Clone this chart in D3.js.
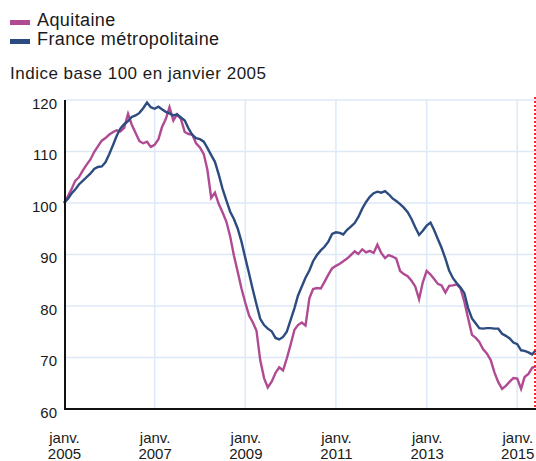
<!DOCTYPE html>
<html>
<head>
<meta charset="utf-8">
<script src="https://cdn.jsdelivr.net/npm/d3@7"></script>
<style>
    body { margin: 0; background: #fff; }
    text { font-family: "Liberation Sans", Arial, sans-serif; fill: #1a1a1a; }
</style>
</head>
<body>
<script>
// séries mensuelles, janvier 2005 -> juin 2015
const seriesNames = ['Aquitaine', 'France métropolitaine']
const seriesColors = ['#b04b93', '#2c4c80']

const aquitaine = [
    100.0, 101.3, 102.6, 104.3, 105.0, 106.3, 107.4, 108.4, 109.9, 111.0, 112.1, 112.6,
    113.3, 113.8, 114.1, 113.9, 114.6, 117.3, 115.2, 113.6, 112.0, 111.6, 111.9, 110.9,
    111.3, 112.4, 114.7, 116.3, 118.6, 116.0, 117.2, 116.3, 113.8, 113.4, 113.3, 111.6,
    110.8, 109.5, 106.5, 101.0, 102.0, 99.8, 98.2, 96.4, 93.5, 89.8, 86.6, 83.4,
    80.6, 78.1, 76.9, 75.2, 69.5, 66.0, 64.2, 65.3, 67.0, 68.1, 67.5, 69.8,
    72.5, 75.4, 76.3, 76.8, 76.2, 81.5, 83.3, 83.5, 83.4, 84.7, 86.1, 87.3,
    87.8, 88.2, 88.7, 89.2, 89.9, 90.6, 90.1, 91.0, 90.4, 90.7, 90.3, 91.9,
    90.3, 89.3, 89.9, 89.6, 89.2, 86.8, 86.2, 85.8, 84.9, 83.8, 81.3, 84.6,
    86.8, 86.1, 85.3, 84.3, 84.0, 82.6, 83.9, 84.0, 84.2, 83.4, 80.8, 77.6,
    74.4, 73.8, 73.0, 71.6, 70.8, 69.5, 67.1, 65.2, 63.9, 64.5, 65.3, 66.0,
    65.9, 63.9, 66.2, 66.8, 68.0, 68.3
]

const france = [
    100.0, 100.8, 101.8, 102.6, 103.6, 104.3, 105.0, 105.7, 106.6, 107.0, 107.1, 107.9,
    109.5, 111.3, 113.0, 114.5, 115.3, 115.9, 116.7, 117.0, 117.5, 118.4, 119.5, 118.6,
    118.3, 118.7, 118.2, 117.7, 117.4, 117.0, 117.2, 116.6, 116.0, 114.5, 113.2, 112.6,
    112.4, 111.9, 110.7, 109.3, 108.0, 105.5, 102.8, 100.5, 98.3, 96.9, 95.0, 92.5,
    89.3, 86.2, 83.3, 80.3, 77.5, 76.3, 75.6, 75.1, 73.8, 73.5, 74.0, 75.0,
    77.3, 79.6, 82.0, 83.8, 85.5, 86.9, 88.7, 89.9, 90.8, 91.5, 92.5, 94.0,
    94.3, 94.2, 93.9, 94.8, 95.4, 96.1, 97.3, 98.9, 100.2, 101.2, 101.9, 102.2,
    102.0, 102.3, 101.7, 100.9, 100.4, 99.8, 99.1, 98.2, 96.9, 95.3, 93.8, 94.6,
    95.6, 96.2, 94.8, 93.0, 91.3, 89.2, 86.9, 85.4, 84.4, 83.6, 82.5, 79.6,
    77.6, 76.6, 75.7, 75.6, 75.7, 75.7, 75.6, 75.6, 74.6, 74.2, 73.7, 72.9,
    72.6, 71.4, 71.3, 71.0, 70.6, 71.5
]

const yTicks = [60, 70, 80, 90, 100, 110, 120]
const xTickYears = [2005, 2007, 2009, 2011, 2013, 2015]
const xTickMonth = 'janv.'
const subtitle = 'Indice base 100 en janvier 2005'
const markerDate = new Date(2015, 4, 25)

const App = {
    width: 536,
    height: 461,
    left: 65,
    right: 536,
    top: 100,
    bottom: 409
}

App.months = d3.timeMonth.range(new Date(2005, 0, 1), new Date(2005, aquitaine.length, 1))

App.svg = d3.select('body').append('svg')
    .attr('width', App.width)
    .attr('height', App.height)

App.x = d3.scaleTime()
    .domain([new Date(2005, 0, 1), new Date(2015, 5, 1)])
    .range([64, 536])

App.y = d3.scaleLinear()
    .domain([60, 120])
    .range([App.bottom, App.top])

// grille
App.svg.append('g')
    .selectAll('line')
    .data(yTicks.slice(1))
    .join('line')
    .attr('x1', App.left)
    .attr('x2', App.right)
    .attr('y1', d => App.y(d))
    .attr('y2', d => App.y(d))
    .attr('stroke', '#dde9f7')
    .attr('stroke-width', 1.5)

App.svg.append('g')
    .selectAll('line')
    .data(xTickYears.slice(1))
    .join('line')
    .attr('x1', d => App.x(new Date(d, 0, 1)))
    .attr('x2', d => App.x(new Date(d, 0, 1)))
    .attr('y1', App.top)
    .attr('y2', App.bottom)
    .attr('stroke', '#dde9f7')
    .attr('stroke-width', 1.5)

// axe y
const yAxis = App.svg.append('g')
    .attr('transform', 'translate(' + App.left + ',0)')
    .call(d3.axisLeft(App.y).tickValues(yTicks).tickSize(0).tickPadding(8))

yAxis.select('.domain').remove()
yAxis.selectAll('text')
    .attr('dy', '0.55em')
    .style('font-size', '15px')
    .attr('fill', '#1a1a1a')

// axe x
const xAxis = App.svg.append('g')
    .attr('transform', 'translate(0,' + App.bottom + ')')
    .call(d3.axisBottom(App.x)
        .tickValues(xTickYears.map(d => new Date(d, 0, 1)))
        .tickSize(0)
        .tickFormat(''))

xAxis.select('.domain').remove()

xAxis.selectAll('.tick').each(function (d) {
    const t = d3.select(this).append('text')
        .attr('text-anchor', 'middle')
        .style('font-size', '15px')
        .attr('fill', '#1a1a1a')
    t.append('tspan').attr('x', 0).attr('y', 34).text(xTickMonth)
    t.append('tspan').attr('x', 0).attr('y', 50).text(d.getFullYear())
})

// courbes
const line = d3.line()
    .x((d, i) => App.x(App.months[i]))
    .y(d => App.y(d))

;[aquitaine, france].forEach(function (values, i) {
    App.svg.append('path')
        .datum(values)
        .attr('fill', 'none')
        .attr('stroke', seriesColors[i])
        .attr('stroke-width', 2.4)
        .attr('stroke-linejoin', 'miter')
        .attr('d', line)
})

// cadre
App.svg.append('line')
    .attr('x1', App.left).attr('x2', App.left)
    .attr('y1', App.top).attr('y2', App.bottom)
    .attr('stroke', '#111').attr('stroke-width', 2)

App.svg.append('line')
    .attr('x1', App.left - 1).attr('x2', App.right)
    .attr('y1', App.bottom).attr('y2', App.bottom)
    .attr('stroke', '#111').attr('stroke-width', 2)

// repère rouge
App.svg.append('line')
    .attr('x1', App.x(markerDate)).attr('x2', App.x(markerDate))
    .attr('y1', App.top - 3).attr('y2', App.bottom)
    .attr('stroke', '#ff1a1a')
    .attr('stroke-width', 2)
    .attr('stroke-dasharray', '2,2')

// légende
const legend = App.svg.append('g')

seriesNames.forEach(function (name, i) {
    legend.append('rect')
        .attr('x', 10)
        .attr('y', 20 + i * 19)
        .attr('width', 20)
        .attr('height', 5)
        .attr('fill', seriesColors[i])

    legend.append('text')
        .attr('x', 37)
        .attr('y', 26 + i * 19)
        .style('font-size', '18px')
        .style('letter-spacing', '0.4px')
        .text(name)
})

App.svg.append('text')
    .attr('x', 10)
    .attr('y', 79)
    .style('font-size', '17px')
    .style('letter-spacing', '0.5px')
    .text(subtitle)
</script>
</body>
</html>
